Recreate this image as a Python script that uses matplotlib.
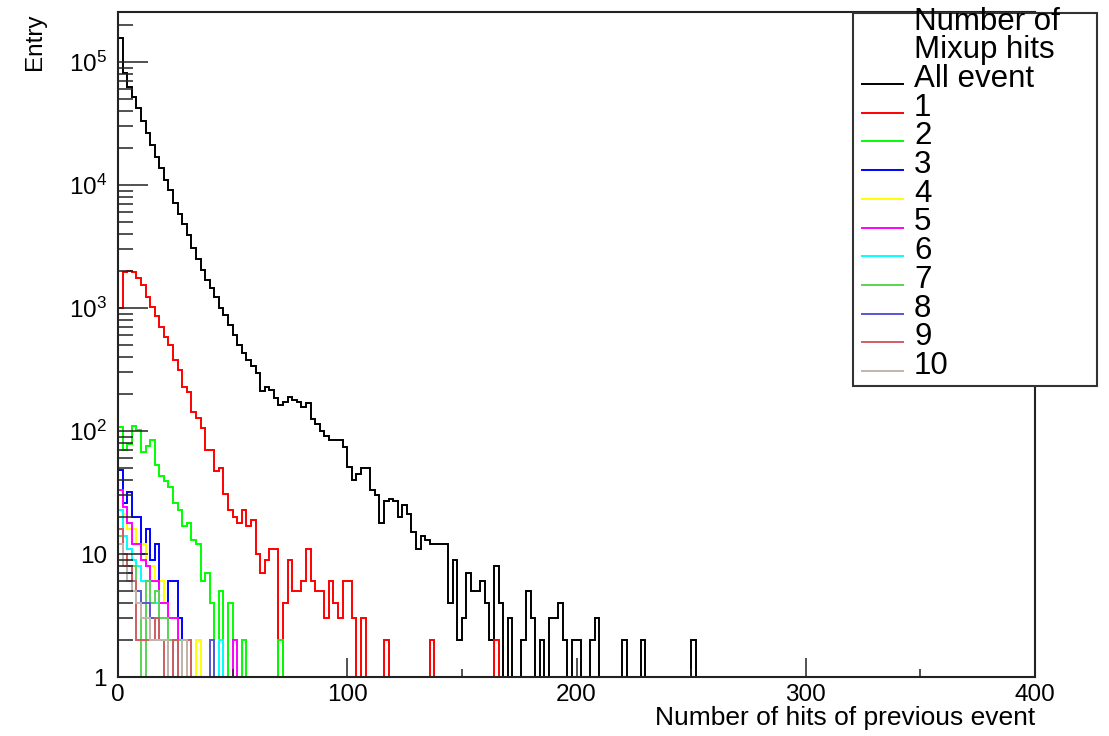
import numpy as np
import matplotlib
matplotlib.use('Agg')
import matplotlib.pyplot as plt
from matplotlib.patches import Rectangle
from matplotlib.ticker import FixedLocator, FixedFormatter, NullFormatter

plt.rcParams['font.family'] = ['Liberation Sans', 'DejaVu Sans']
plt.rcParams['mathtext.fontset'] = 'custom'
plt.rcParams['mathtext.rm'] = 'Liberation Sans'

# ---------------- data (bin width 2, range 0-400) ----------------
n_bins = 200
x_min, x_max = 0, 400

all_event = [158000, 81000, 63000, 52000, 42000, 33000, 26500, 21000, 17000, 13700,
             11000, 9100, 7200, 5800, 4800, 3900, 3100, 2500, 2050, 1700,
             1450, 1240, 1000, 870, 730, 600, 500, 430, 380, 340,
             295, 212, 229, 215, 187, 163, 173, 190, 179, 173,
             158, 170, 125, 113, 100, 91, 85, 85, 85, 74,
             51, 40, 45, 50, 50, 33, 30, 18, 27, 28,
             27, 20, 25, 21, 15, 11, 14, 13, 12, 12,
             12, 12, 4, 9, 2, 3, 7, 5, 5, 6,
             4, 2, 8, 4, 1, 3, 1, 1, 2, 5,
             3, 1, 2, 1, 3, 3, 4, 2, 1, 2,
             2, 1, 1, 2, 3, 1, 1, 1, 1, 1,
             2, 1, 1, 1, 2, 0, 0, 0, 0, 0,
             0, 0, 0, 0, 0, 2]

mixup_1 = [1000, 1970, 2000, 1970, 1740, 1550, 1230, 1010, 860, 705,
           585, 500, 378, 313, 229, 209, 144, 127, 105, 70,
           70, 47, 50, 31, 23, 20, 18, 23, 17, 19,
           10, 7, 9, 11, 11, 1, 4, 9, 5, 5,
           6, 11, 6, 5, 5, 3, 6, 4, 3, 6,
           6, 3, 1, 3, 1, 1, 1, 1, 2, 1,
           1, 1, 1, 1, 1, 1, 1, 1, 2, 1,
           0, 0, 0, 0, 0, 0, 0, 0, 0, 0,
           0, 0, 2]

mixup_2 = [108, 70, 79, 109, 102, 68, 75, 85, 53, 43,
           39, 35, 26, 23, 17, 18, 13, 12, 6, 7,
           4, 1, 5, 1, 4, 1, 1, 2, 0, 0,
           0, 0, 0, 0, 0, 2]

mixup_3 = [48, 26, 32, 20, 20, 10, 16, 9, 12, 4,
           4, 6, 6, 3, 2, 1, 1, 1, 1, 1]

mixup_4 = [16, 21, 16, 16, 12, 12, 8, 8, 6, 6,
           4, 3, 3, 1, 1, 1, 1, 2]

mixup_5 = [33, 24, 18, 12, 12, 9, 8, 6, 6, 4,
           4, 3, 3, 1, 1, 1, 1, 1, 1, 1,
           1, 1, 1, 1, 1, 2]

mixup_6 = [23, 14, 11, 9, 8, 6, 6, 4, 4, 3,
           3, 2, 2, 2, 1, 1, 1, 1, 1, 1,
           1, 1, 2]

mixup_7 = [14, 10, 8, 8, 5, 1, 6, 4, 5, 3,
           3, 2, 2, 2]

mixup_8 = [12, 8, 7, 5, 5, 4, 4, 3, 3, 2,
           2, 1, 2, 1, 1, 1, 1, 1, 1, 1, 2]

mixup_9 = [16, 10, 8, 6, 2, 2, 2, 2, 3, 2,
           1, 1, 2, 1, 1, 2]

mixup_10 = [12, 8, 6, 5, 4, 3, 3, 2, 2, 2,
            2, 1, 1, 1, 2]

series_labels = ['All event', '1', '2', '3', '4', '5', '6', '7', '8', '9', '10']
series_values = [all_event, mixup_1, mixup_2, mixup_3, mixup_4, mixup_5,
                 mixup_6, mixup_7, mixup_8, mixup_9, mixup_10]
series_colors = ['#000000', '#FF0000', '#00FF00', '#0000FF', '#FFFF00', '#FF00FF',
                 '#00FFFF', '#59D454', '#5954D9', '#CF5E61', '#C0B6AC']

y_tick_values = [1, 10, 100, 1000, 10000, 100000]
y_tick_labels = ['1', '10', r'$\mathregular{10^{2}}$', r'$\mathregular{10^{3}}$',
                 r'$\mathregular{10^{4}}$', r'$\mathregular{10^{5}}$']
x_tick_values = [0, 100, 200, 300, 400]

# ---------------- figure ----------------
W, H = 1109, 736
fig = plt.figure(figsize=(W / 100, H / 100), dpi=100)
fig.patch.set_facecolor('white')

L, R, T, B = 118, 1035, 12, 677
ax = fig.add_axes([L / W, 1 - B / H, (R - L) / W, (B - T) / H])

edges = np.linspace(x_min, x_max, n_bins + 1)
for vals, col in zip(series_values, series_colors):
    v = np.zeros(n_bins)
    v[:len(vals)] = vals
    v = np.clip(v, 1, None)   # ROOT draws empty bins at the axis minimum
    ax.stairs(v, edges, baseline=1, color=col, lw=1.4)

ax.set_yscale('log')
ax.set_xlim(x_min, x_max)
ax.set_ylim(1, 2.55e5)

ax.yaxis.set_major_locator(FixedLocator(y_tick_values))
ax.yaxis.set_major_formatter(FixedFormatter(y_tick_labels))
minor_y = [m * 10 ** k for k in range(0, 6) for m in range(2, 10) if m * 10 ** k < 2.55e5]
ax.yaxis.set_minor_locator(FixedLocator(minor_y))
ax.yaxis.set_minor_formatter(NullFormatter())

ax.xaxis.set_major_locator(FixedLocator(x_tick_values))
ax.xaxis.set_minor_locator(FixedLocator([50, 150, 250, 350]))

ax.tick_params(axis='y', which='major', direction='in', length=21.5, width=1.1,
               labelsize=17.5, pad=8, left=True, right=False, color='#222222')
ax.tick_params(axis='y', which='minor', direction='in', length=10.8, width=1.1,
               left=True, right=False, color='#222222')
ax.tick_params(axis='x', which='major', direction='in', length=14, width=1.1,
               labelsize=17.5, pad=5, bottom=True, top=False, color='#222222')
ax.tick_params(axis='x', which='minor', direction='in', length=6, width=1.1,
               bottom=True, top=False, color='#222222')

for s in ax.spines.values():
    s.set_linewidth(1.5)
    s.set_color('#222222')

ax.set_xlabel('Number of hits of previous event', fontsize=19, ha='right')
ax.xaxis.set_label_coords(1.0, -0.043)
ax.xaxis.label.set_va('top')

fig.text(35 / W, 1 - 13 / H, 'Entry', rotation=90, ha='center', va='top', fontsize=17.5)

# ---------------- legend (ROOT TLegend style) ----------------
ov = fig.add_axes([0, 0, 1, 1], zorder=5)
ov.set_xlim(0, W)
ov.set_ylim(H, 0)
ov.axis('off')
ov.patch.set_alpha(0)
ov.add_patch(Rectangle((853, 13), 244, 373, facecolor='white', edgecolor='#333333', lw=1.5))
ov.text(914, 22, 'Number of', fontsize=22.5, ha='left', va='center')
ov.text(914, 50, 'Mixup hits', fontsize=22.5, ha='left', va='center')
row0, step = 84, 28.7
for i, (lab, col) in enumerate(zip(series_labels, series_colors)):
    yy = row0 + i * step
    ov.plot([862, 903], [yy, yy], color=col, lw=1.4)
    ov.text(914, yy - 5, lab, fontsize=22.5, ha='left', va='center')

fig.savefig('out.png', dpi=100)
